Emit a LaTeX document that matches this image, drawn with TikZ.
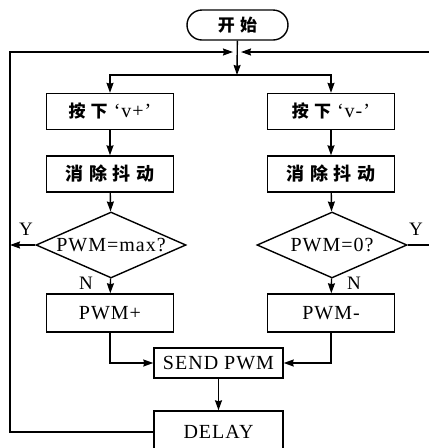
\documentclass[tikz,border=0pt]{standalone}
\usepackage{fontspec}
\setmainfont[LetterSpace=5]{Liberation Serif}
\newfontfamily\cjk[LetterSpace=30]{Noto Sans CJK SC}
\usetikzlibrary{positioning,shapes.geometric,arrows.meta}

\begin{document}
\begin{tikzpicture}[x=1pt, y=1pt,
  nodes = {draw, line width=1.4pt, inner sep=0pt,
    font=\fontsize{20}{22}\selectfont},
  startstop/.style = {rounded corners=15pt, minimum width=101pt,
    minimum height=30pt, font=\cjk\bfseries\fontsize{17}{20}\selectfont},
  process/.style = {minimum width=127pt, minimum height=36pt},
  decision/.style = {diamond, aspect=2.27, minimum width=150pt,
    minimum height=66pt},
  lbl/.style = {draw=none, font=\fontsize{19}{20}\selectfont},
  line/.style = {line width=1.4pt},
  arr/.style = {line, -{Stealth[length=10pt,width=7pt,inset=1pt]}}
  ]
  \useasboundingbox (0,0) rectangle (429,-448);

  \node (start) [startstop] at (237.5,-25) {开始};
  \coordinate (j) at (237,-52);
  \coordinate (fork) at (237,-75);
  \coordinate (lx) at (10,-52);
  \coordinate (rx) at (430,-52);

  % two key branches
  \node (kplus) [process] at (110,-111.5) {{\cjk\bfseries\fontsize{17}{20}\selectfont 按下}\hspace{6pt}‘v+’};
  \node (kminus) [process] at (331,-111.5) {{\cjk\bfseries\fontsize{17}{20}\selectfont 按下}\hspace{6pt}‘v-’};
  \node (dbplus) [process, font=\cjk\bfseries\fontsize{18}{20}\selectfont] at (110,-174) {消除抖动};
  \node (dbminus) [process, font=\cjk\bfseries\fontsize{18}{20}\selectfont] at (331,-174) {消除抖动};
  \node (qmax) [decision] at (111,-245) {\makebox[0pt]{PWM=max?}};
  \node (qzero) [decision] at (332,-245) {\makebox[0pt]{PWM=0?}};
  \node (pwmplus) [process, minimum height=38pt] at (110,-313) {PWM+};
  \node (pwmminus) [process, minimum height=38pt] at (331,-313) {PWM-};
  \node (send) [process, minimum width=129pt, minimum height=30pt] at (218.5,-363) {SEND PWM};
  \node (delay) [process, minimum width=129pt, minimum height=42pt] at (218.5,-432) {DELAY};

  \node (yl) [lbl] at (26,-229) {Y};
  \node (yr) [lbl] at (416,-229) {Y};
  \node (nl) [lbl] at (86,-283) {N};
  \node (nr) [lbl] at (354,-283) {N};

  \draw[arr] (start) -- (fork);
  \draw[arr] (fork) -| (kplus);
  \draw[arr] (fork) -| (kminus);
  \draw[arr] (kplus) -- (dbplus);
  \draw[arr] (kminus) -- (dbminus);
  \draw[arr] (dbplus) -- (qmax);
  \draw[arr] (dbminus) -- (qzero);
  \draw[arr] (qmax) -- (pwmplus);
  \draw[arr] (qzero) -- (pwmminus);
  \draw[arr] (pwmplus) |- (send);
  \draw[arr] (pwmminus) |- (send);
  \draw[arr] (send) -- (delay);

  % loops back to the top
  \draw[arr] (qmax.west) -- (qmax.west -| lx);
  \draw[arr, shorten >=4pt] (delay.west) -| (lx) -- (j);
  \draw[arr, shorten >=4pt] (qzero.east) -| (rx) -- (j);
\end{tikzpicture}
\end{document}
